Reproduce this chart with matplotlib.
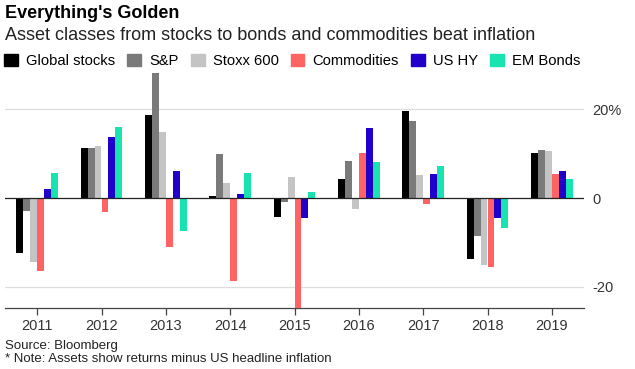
import numpy as np
import matplotlib.pyplot as plt
from matplotlib.patches import Patch

plt.rcParams['font.family'] = ['Liberation Sans', 'DejaVu Sans']

years = ['2011', '2012', '2013', '2014', '2015', '2016', '2017', '2018', '2019']
series = ['Global stocks', 'S&P', 'Stoxx 600', 'Commodities', 'US HY', 'EM Bonds']
colors = ['#000000', '#7a7a7a', '#c4c4c4', '#ff6464', '#2200cc', '#19e3b1']

global_stocks = [-12.3, 11.3, 18.8, 0.45, -4.2, 4.3, 19.6, -13.7, 10.2]
sp = [-2.9, 11.3, 29.6, 9.9, -0.8, 8.4, 17.4, -8.6, 10.8]
stoxx = [-14.4, 11.7, 14.9, 3.4, 4.7, -2.4, 5.2, -15.0, 10.7]
commodities = [-16.4, -3.1, -11.0, -18.6, -26.0, 10.2, -1.3, -15.5, 5.4]
us_hy = [2.1, 13.8, 6.2, 0.9, -4.4, 15.8, 5.4, -4.4, 6.1]
em_bonds = [5.7, 16.0, -7.4, 5.7, 1.35, 8.1, 7.2, -6.7, 4.3]

data = [global_stocks, sp, stoxx, commodities, us_hy, em_bonds]

fig = plt.figure(figsize=(6.35, 3.69), dpi=100)
ax = fig.add_axes([5 / 635, 61 / 369, 579 / 635, 235 / 369])

x = np.arange(len(years))
w = 0.108
for i, (vals, c) in enumerate(zip(data, colors)):
    ax.bar(x + (i - 2.5) * w, vals, w, color=c, zorder=3)

ax.set_xlim(-0.5, 8.5)
ax.set_ylim(-24.8, 28.2)
ax.axhline(0, color='#222222', lw=0.9, zorder=4)
for yv in [20, -20]:
    ax.axhline(yv, color='#dddddd', lw=0.9, zorder=1)

ax.set_yticks([20, 0, -20])
ax.set_yticklabels(['20%', '0', '-20'])
ax.yaxis.tick_right()
ax.tick_params(axis='y', length=0, pad=6, labelsize=10.5, labelcolor='#333333')
ax.set_xticks(x)
ax.set_xticklabels(years)
ax.tick_params(axis='x', length=5, width=0.9, color='#444444', labelsize=10.5,
               labelcolor='#333333', pad=3)
for s in ['top', 'left', 'right']:
    ax.spines[s].set_visible(False)
ax.spines['bottom'].set_color('#444444')
ax.spines['bottom'].set_linewidth(0.9)

fig.text(5 / 635, 1 - 14 / 369, "Everything's Golden", fontsize=13,
         fontweight='bold', va='center', ha='left')
fig.text(5 / 635, 1 - 35 / 369,
         'Asset classes from stocks to bonds and commodities beat inflation',
         fontsize=13, va='center', ha='left', color='#222222')

handles = [Patch(color=c, label=s) for s, c in zip(series, colors)]
fig.legend(handles=handles, loc='center left', bbox_to_anchor=(0 / 635, 1 - 61 / 369),
           ncol=6, frameon=False, fontsize=10.6, handlelength=0.95, handleheight=0.95,
           handletextpad=0.55, columnspacing=0.8, borderaxespad=0, borderpad=0.3)

fig.text(5 / 635, 1 - 346 / 369, 'Source: Bloomberg', fontsize=9.5,
         va='center', ha='left', color='#222222')
fig.text(5 / 635, 1 - 359 / 369, '* Note: Assets show returns minus US headline inflation',
         fontsize=9.5, va='center', ha='left', color='#222222')

fig.savefig('out.png', dpi=100)
